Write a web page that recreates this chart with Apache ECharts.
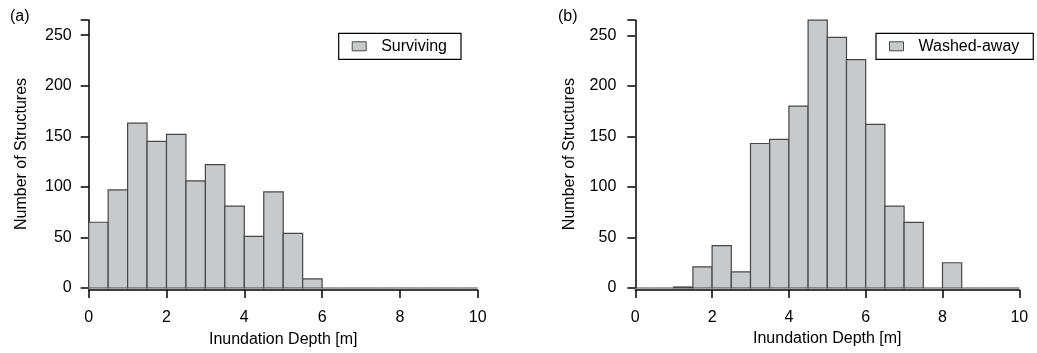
<!DOCTYPE html>
<html>
<head>
<meta charset="utf-8">
<script src="https://cdn.jsdelivr.net/npm/echarts@6/dist/echarts.min.js"></script>
<style>
html,body{margin:0;padding:0;background:#fff;}
#chart{width:1037px;height:353px;}
</style>
</head>
<body>
<div id="chart"></div>
<script>
// Data
const binStarts = [0,0.5,1,1.5,2,2.5,3,3.5,4,4.5,5,5.5,6,6.5,7,7.5,8,8.5,9,9.5];
const binEnds   = [0.5,1,1.5,2,2.5,3,3.5,4,4.5,5,5.5,6,6.5,7,7.5,8,8.5,9,9.5,10];
const survivingCounts = [65,97,163,145,152,106,122,81,51,95,54,9,0,0,0,0,0,0,0,0];
const washedCounts    = [0,0,1,21,42,16,143,147,180,265,248,226,162,81,65,0,25,0,0,0];
const xTicks = [0,2,4,6,8,10];
const yTicks = [0,50,100,150,200,250];
const seriesNames = ['Surviving','Washed-away'];
const panelLabels = ['(a)','(b)'];

const FONT = 'Liberation Sans, Arial, sans-serif';
const TXT = '#000';
const FILL = '#c8c9cb';
const STROKE = '#474747';

function toData(counts){ return binStarts.map((s,i)=>[s, binEnds[i], counts[i]]); }
function renderItem(params, api){
  const p0 = api.coord([api.value(0), api.value(2)]);
  const p1 = api.coord([api.value(1), 0]);
  return {type:'rect', shape:{x:p0[0], y:p0[1], width:p1[0]-p0[0], height:p1[1]-p0[1]},
    style:{fill:FILL, stroke:STROKE, lineWidth:1.2}};
}

function xAxis(gi, off, gap){
  return {type:'value', gridIndex:gi, min:0, max:10, interval:2, offset:off,
    axisLine:{show:true, onZero:false, lineStyle:{color:'#000', width:1.5}},
    axisTick:{show:true, length:8, lineStyle:{color:'#000', width:1.5}},
    axisLabel:{color:TXT, fontSize:16, fontFamily:FONT, margin:20,
      formatter:v=> xTicks.includes(v)? String(v):''},
    splitLine:{show:false},
    name:'Inundation Depth [m]', nameLocation:'middle', nameGap:gap,
    nameTextStyle:{color:TXT, fontSize:16, fontFamily:FONT}};
}
function yAxis(gi, off, gap){
  return {type:'value', gridIndex:gi, min:0, max:265, interval:50, offset:off,
    axisLine:{show:true, lineStyle:{color:'#000', width:1.5}},
    axisTick:{show:true, length:8, lineStyle:{color:'#000', width:1.5}},
    axisLabel:{color:TXT, fontSize:16, fontFamily:FONT, margin:16,
      formatter:v=> yTicks.includes(v)? String(v):''},
    splitLine:{show:false},
    name:'Number of Structures', nameLocation:'middle', nameGap:gap,
    nameTextStyle:{color:TXT, fontSize:16, fontFamily:FONT}};
}
function legend(name, left, top){
  return {left:left, top:top, orient:'horizontal', padding:[5,14,5,13],
    borderColor:'#000', borderWidth:1.2, borderRadius:0,
    itemWidth:14, itemHeight:9, selectedMode:false,
    textStyle:{color:TXT, fontSize:16, fontFamily:FONT, padding:[0,0,0,10]},
    data:[{name:name, icon:'rect', itemStyle:{color:FILL, borderColor:STROKE, borderWidth:1}}]};
}

const chart = echarts.init(document.getElementById('chart'), null, {renderer:'canvas'});
chart.setOption({
  animation:false,
  backgroundColor:'#fff',
  title:[
    {text:panelLabels[0], left:5, top:4, textStyle:{fontSize:16, fontWeight:'normal', color:TXT, fontFamily:FONT}},
    {text:panelLabels[1], left:553, top:4, textStyle:{fontSize:16, fontWeight:'normal', color:TXT, fontFamily:FONT}}
  ],
  grid:[
    {left:88.7, top:20, width:389, height:271.7},
    {left:635.3, top:20.2, width:384, height:267.8}
  ],
  xAxis:[xAxis(0,2,42), xAxis(1,2,40)],
  yAxis:[yAxis(0,1,58), yAxis(1,3,55)],
  legend:[legend(seriesNames[0], 338.7, 33.3), legend(seriesNames[1], 876, 33.3)],
  series:[
    {type:'custom', name:seriesNames[0], xAxisIndex:0, yAxisIndex:0, renderItem:renderItem,
      itemStyle:{color:FILL, borderColor:STROKE}, encode:{x:[0,1], y:2}, data:toData(survivingCounts)},
    {type:'custom', name:seriesNames[1], xAxisIndex:1, yAxisIndex:1, renderItem:renderItem,
      itemStyle:{color:FILL, borderColor:STROKE}, encode:{x:[0,1], y:2}, data:toData(washedCounts)}
  ]
});
</script>
</body>
</html>
